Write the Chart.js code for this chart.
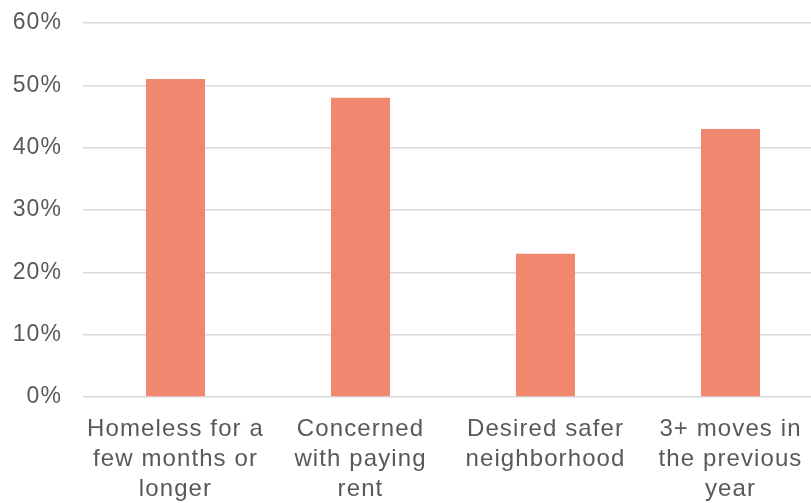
<!DOCTYPE html>
<html>
<head>
<meta charset="utf-8">
<script src="https://cdn.jsdelivr.net/npm/chart.js@4/dist/chart.umd.min.js"></script>
<style>
  html, body { margin: 0; padding: 0; background: #ffffff; overflow: hidden; width: 811px; height: 503px; }
  #wrap { width: 823px; height: 503px; position: relative; }
</style>
</head>
<body>
<div id="wrap"><canvas id="c"></canvas></div>
<script>
const categories = [
  ["Homeless for a", "few months or", "longer"],
  ["Concerned", "with paying", "rent"],
  ["Desired safer", "neighborhood"],
  ["3+ moves in", "the previous", "year"]
];
const values = [51, 48, 23, 43];
const yTicks = [0, 10, 20, 30, 40, 50, 60];

const spacingPlugin = {
  id: 'spacing',
  beforeUpdate(chart) { chart.ctx.letterSpacing = '1.1px'; },
  beforeLayout(chart) { chart.ctx.letterSpacing = '1.1px'; },
  beforeDraw(chart) { chart.ctx.letterSpacing = '1.1px'; }
};

new Chart(document.getElementById('c'), {
  type: 'bar',
  data: {
    labels: categories,
    datasets: [{
      data: values,
      backgroundColor: '#F1876F',
      borderWidth: 0,
      categoryPercentage: 1,
      barPercentage: 0.319
    }]
  },
  plugins: [spacingPlugin],
  options: {
    responsive: true,
    maintainAspectRatio: false,
    animation: false,
    layout: { padding: { top: 23, right: 0, bottom: 0, left: 0 } },
    plugins: { legend: { display: false }, tooltip: { enabled: false } },
    scales: {
      x: {
        grid: { display: false, drawTicks: false },
        border: { display: false },
        ticks: {
          color: '#595959',
          font: { family: 'Liberation Sans, Arial, sans-serif', size: 24, lineHeight: 30 / 24 },
          padding: 17,
          maxRotation: 0,
          autoSkip: false
        },
        afterFit(scale) { scale.height = 106; scale.paddingLeft = 0; scale.paddingRight = 0; }
      },
      y: {
        min: 0,
        max: 60,
        afterBuildTicks(scale) { scale.ticks = yTicks.map(v => ({ value: v })); },
        grid: { color: '#D9D9D9', lineWidth: 1.5, drawTicks: false },
        border: { display: false },
        ticks: {
          color: '#595959',
          font: { family: 'Liberation Sans, Arial, sans-serif', size: 23 },
          padding: 21,
          callback: v => v + '%'
        },
        afterFit(scale) { scale.width = 83; scale.paddingTop = 0; scale.paddingBottom = 0; }
      }
    }
  }
});
</script>
</body>
</html>
